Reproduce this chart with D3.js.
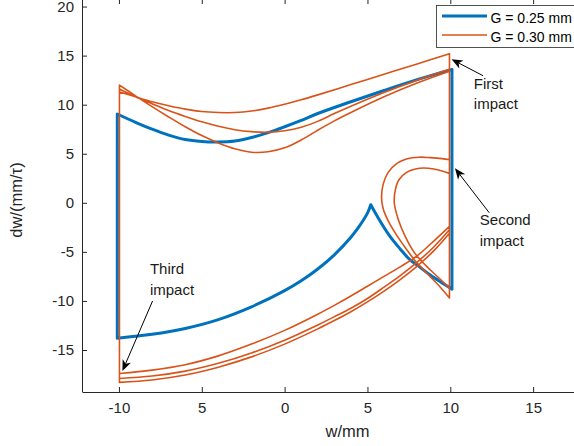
<!DOCTYPE html>
<html><head><meta charset="utf-8">
<script src="https://cdn.jsdelivr.net/npm/d3@7"></script>
<style>
body{margin:0;background:#fff}
svg{display:block}
text{font-family:"Liberation Sans",Arial,Helvetica,sans-serif}
</style>
</head><body>
<svg id="c" width="574" height="446"></svg>
<script>
// ---------------- data ----------------
const xTicks = [-10, -5, 0, 5, 10, 15];
const xTickLabels = ["-10", "5", "0", "5", "10", "15"];
const yTicks = [-15, -10, -5, 0, 5, 10, 15, 20];
const yTickLabels = ["-15", "-10", "-5", "0", "5", "10", "15", "20"];
const xLabel = "w/mm";
const yLabel = "dw/(mm/\u03c4)";
const legendLabels = ["G = 0.25 mm", "G = 0.30 mm"];

// G = 0.25 mm (blue), [w, dw] pairs
const blueLower = [[-10.1,-13.8],[-8,-13.4],[-6,-12.8],[-4,-11.9],[-2,-10.6],[0,-8.95],[1,-7.95],[2,-6.75],[3,-5.3],[4,-3.5],[4.5,-2.4],[5,-1.05],[5.2,-0.2]];
const blueDescent = [[5.2,-0.2],[5.6,-1.4],[6.35,-3.4],[7.0,-4.75],[7.56,-5.8],[8.2,-6.6],[8.77,-7.34],[9.4,-8.05],[10.1,-8.8]];
const blueRightWall = [[10.1,-8.8],[10.1,13.6]];
const blueUpper = [[10.1,13.6],[8,12.55],[6,11.45],[4,10.3],[2,9.1],[1,8.4],[0,7.75],[-1,7.15],[-2,6.65],[-3,6.3],[-4,6.2],[-5,6.25],[-6,6.45],[-7,6.9],[-8,7.5],[-9,8.2],[-10.1,9.05]];
const blueLeftWall = [[-10.1,9.05],[-10.1,-13.8]];

// G = 0.30 mm (orange), [w, dw] pairs
const orangeTopA = [[-9.97,11.3],[-9,10.8],[-8,10.3],[-7,9.9],[-6,9.55],[-5,9.3],[-4,9.2],[-3,9.2],[-2,9.35],[-1,9.65],[0,10.05],[1,10.5],[2,11.0],[4,12.05],[6,13.1],[8,14.15],[9.95,15.2]];
const orangeTopB = [[-9.97,11.6],[-9,10.8],[-8,10.1],[-7,9.4],[-6,8.8],[-5,8.25],[-4,7.8],[-3,7.45],[-2,7.25],[-1,7.2],[0,7.35],[1,7.7],[2,8.3],[3,9.1],[4,9.85],[6,11.25],[8,12.5],[9.95,13.6]];
const orangeTopC = [[-9.97,12.0],[-9,10.9],[-8,9.8],[-7,8.75],[-6,7.75],[-5,6.85],[-4,6.1],[-3,5.5],[-2,5.15],[-1,5.2],[0,5.6],[1,6.4],[2,7.4],[3,8.35],[4,9.2],[6,10.8],[8,12.2],[9.95,13.4]];
const orangeOuterLoop = [[9.95,-9.7],[9.4,-8.6],[8.77,-7.5],[8.2,-6.5],[7.8,-5.75],[7.36,-4.75],[6.8,-3.4],[6.3,-2.0],[5.95,-0.6],[5.85,0.6],[5.95,1.9],[6.25,3.1],[6.8,4.05],[7.4,4.5],[8.1,4.65],[8.8,4.6],[9.5,4.5],[9.95,4.4]];
const orangeInnerLoop = [[9.95,-8.7],[9.4,-7.8],[8.8,-6.85],[8.3,-6.0],[7.8,-5.0],[7.3,-3.5],[6.86,-1.7],[6.62,0.0],[6.68,1.3],[6.9,2.35],[7.36,3.1],[7.9,3.45],[8.4,3.55],[9.0,3.45],[9.5,3.25],[9.95,3.0]];
const orangeBottom1 = [[9.95,-2.4],[9,-3.9],[8,-5.4],[7,-6.5],[6,-7.5],[5,-8.5],[4,-9.5],[3,-10.45],[2,-11.35],[0,-13.0],[-2,-14.4],[-4,-15.6],[-6,-16.5],[-8,-17.05],[-9.97,-17.4]];
const orangeBottom2 = [[9.95,-2.75],[9,-4.5],[8,-6.05],[7,-7.4],[6,-8.6],[5,-9.75],[4,-10.75],[3,-11.6],[2,-12.45],[0,-14.0],[-2,-15.3],[-4,-16.35],[-6,-17.15],[-8,-17.65],[-9.97,-17.9]];
const orangeBottom3 = [[9.95,-3.1],[9,-4.9],[8,-6.45],[7,-7.8],[6,-9.0],[5,-10.1],[4,-11.1],[3,-12.0],[2,-12.85],[0,-14.4],[-2,-15.7],[-4,-16.75],[-6,-17.55],[-8,-18.05],[-9.97,-18.3]];
const orangeLeftWall = [[-9.97,-18.3],[-9.97,12.0]];
const orangeRightWall = [[9.95,15.2],[9.95,-9.7]];

// annotations (data coordinates)
const annoText = [["First","impact"],["Second","impact"],["Third","impact"]];
const annoTextPos = [[11.42,11.63],[11.78,-2.30],[-8.13,-7.26]];
const annoTail = [[11.98,12.95],[12.35,-1.01],[-7.97,-10.0]];
const annoTip = [[10.08,14.62],[10.28,3.52],[-9.79,-17.14]];

// ---------------- drawing ----------------
const svg = d3.select("#c");
const AX = "#262626";
const BLUE = "#0072BD", ORANGE = "#D95319";
const x = d3.scaleLinear().domain([-12.2, 19.7]).range([82.5, 611]);
const y = d3.scaleLinear().domain([-19.28, 20.77]).range([392, -1]);

function styleAxis(g, fs){
  g.select(".domain").attr("stroke", AX).attr("stroke-width", 1);
  g.selectAll(".tick line").attr("stroke", AX).attr("stroke-width", 1);
  g.selectAll(".tick text").attr("fill", AX).attr("font-size", fs)
    .attr("font-family", '"Liberation Sans",Arial,sans-serif');
}
const gx = svg.append("g").attr("transform", "translate(0,392)")
  .call(d3.axisBottom(x).tickValues(xTicks).tickFormat((d,i)=>xTickLabels[i])
    .tickSizeInner(-5).tickSizeOuter(0).tickPadding(10));
styleAxis(gx, 15);
const gy = svg.append("g").attr("transform", "translate(82,0)")
  .call(d3.axisLeft(y).tickValues(yTicks).tickFormat((d,i)=>yTickLabels[i])
    .tickSizeInner(-5).tickSizeOuter(0).tickPadding(8));
styleAxis(gy, 15);
const gt = svg.append("g").attr("transform", "translate(0,-1)")
  .call(d3.axisTop(x).tickValues(xTicks).tickFormat("").tickSizeInner(-5).tickSizeOuter(0));
styleAxis(gt, 15);
const gr = svg.append("g").attr("transform", "translate(611,0)")
  .call(d3.axisRight(y).tickValues(yTicks).tickFormat("").tickSizeInner(-5).tickSizeOuter(0));
styleAxis(gr, 15);

svg.append("text").attr("x", 347.5).attr("y", 437).attr("text-anchor", "middle")
  .attr("font-size", 16.5).attr("fill", AX).text(xLabel);
svg.append("text").attr("transform", "translate(21.5,200) rotate(-90)").attr("text-anchor", "middle")
  .attr("font-size", 16.5).attr("fill", AX).text(yLabel);

// builds one continuous path from consecutive segments
function trajectory(segs){
  const curved = d3.line().x(d=>x(d[0])).y(d=>y(d[1])).curve(d3.curveCatmullRom.alpha(0.5));
  const straight = d3.line().x(d=>x(d[0])).y(d=>y(d[1]));
  let out = "";
  segs.forEach((s, i) => {
    let p = (s.length === 2 ? straight : curved)(s);
    if (i > 0) p = "L" + p.slice(1);
    out += p;
  });
  return out;
}

svg.append("path")
  .attr("d", trajectory([blueLower, blueDescent, blueRightWall, blueUpper, blueLeftWall]))
  .attr("fill", "none").attr("stroke", BLUE).attr("stroke-width", 3)
  .attr("stroke-linejoin", "round").attr("stroke-linecap", "round");

const oA = trajectory([orangeTopA, orangeRightWall, orangeOuterLoop, [[9.95,4.4],[9.95,-2.75]], orangeBottom2,
  [[-9.97,-17.9],[-9.97,11.6]], orangeTopB, [[9.95,13.6],[9.95,-8.7]], orangeInnerLoop, [[9.95,3.0],[9.95,-2.4]], orangeBottom1,
  [[-9.97,-17.4],[-9.97,11.3]]]);
const oB = trajectory([orangeLeftWall, orangeTopC, [[9.95,13.4],[9.95,-3.1]], orangeBottom3]);
svg.append("path").attr("d", oA + oB)
  .attr("fill", "none").attr("stroke", ORANGE).attr("stroke-width", 1.6)
  .attr("stroke-linejoin", "round").attr("stroke-linecap", "round");

// legend
const lg = svg.append("g");
lg.append("rect").attr("x", 436.5).attr("y", 5.5).attr("width", 150).attr("height", 42)
  .attr("fill", "#fff").attr("stroke", AX).attr("stroke-width", 0.8);
const legColors = [BLUE, ORANGE], legWidths = [3, 1.6];
legendLabels.forEach((t, i) => {
  const yy = 16 + i * 19;
  lg.append("line").attr("x1", 442).attr("x2", 487).attr("y1", yy).attr("y2", yy)
    .attr("stroke", legColors[i]).attr("stroke-width", legWidths[i]);
  lg.append("text").attr("x", 490.5).attr("y", yy + 6.5).attr("font-size", 14)
    .attr("fill", "#000").text(t);
});

// annotations
function arrow(x1, y1, x2, y2){
  const a = Math.atan2(y2 - y1, x2 - x1), c = Math.cos(a), s = Math.sin(a);
  const L = 11, Wd = 4.5, notch = 8;
  svg.append("line").attr("x1", x1).attr("y1", y1).attr("x2", x2 - notch * c).attr("y2", y2 - notch * s)
    .attr("stroke", "#000").attr("stroke-width", 1);
  const pts = [[x2, y2],
    [x2 - L * c - Wd * s, y2 - L * s + Wd * c],
    [x2 - notch * c, y2 - notch * s],
    [x2 - L * c + Wd * s, y2 - L * s - Wd * c]];
  svg.append("polygon").attr("points", pts.map(p => p.join(",")).join(" ")).attr("fill", "#000");
}
annoText.forEach((lines, i) => {
  const tx = x(annoTextPos[i][0]), ty = y(annoTextPos[i][1]);
  lines.forEach((t, j) => {
    svg.append("text").attr("x", tx).attr("y", ty + j * 20.5).attr("font-size", 15)
      .attr("fill", "#1a1a1a").text(t);
  });
  arrow(x(annoTail[i][0]), y(annoTail[i][1]), x(annoTip[i][0]), y(annoTip[i][1]));
});
</script>
</body></html>
